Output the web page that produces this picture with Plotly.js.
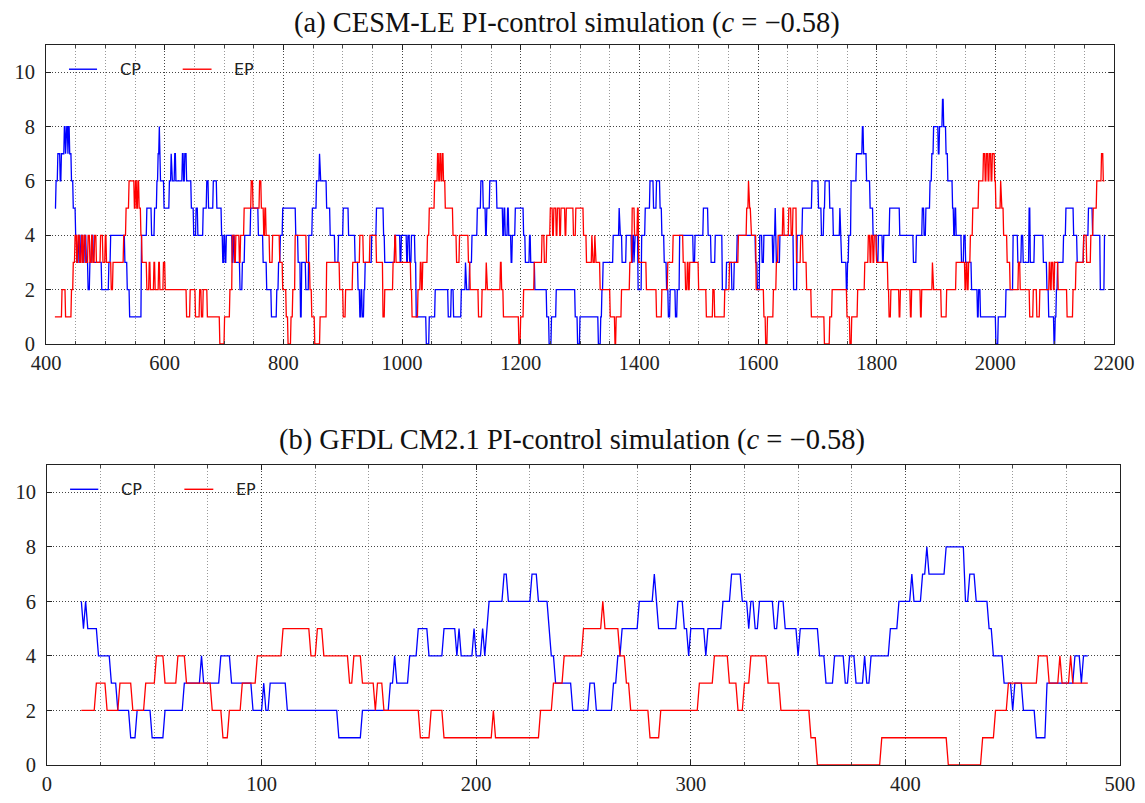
<!DOCTYPE html>
<html>
<head>
<meta charset="utf-8">
<script src="https://cdn.plot.ly/plotly-3.0.1.min.js"></script>
<style>html,body{margin:0;padding:0;background:#fff;}#chart{width:1145px;height:803px;}</style>
</head>
<body>
<div id="chart"></div>
<script>
// ---- Data: change points [year, value]; each value holds until the next change point ----
const cesmTitle = "(a) CESM-LE PI-control simulation (<i>c</i> = \u22120.58)";
const gfdlTitle = "(b) GFDL CM2.1 PI-control simulation (<i>c</i> = \u22120.58)";
const seriesNames = ["CP", "EP"];

const cesmEnd = 2185;
const cesmCP = [[415,5],[417,6],[420,7],[424,6],[426,7],[431,8],[433,7],[434,8],[437,7],[438,8],[440,7],[443,6],[446,5],[450,4],[452,3],[455,4],[457,3],[459,4],[462,3],[465,4],[468,3],[471,2],[474,3],[477,4],[480,3],[494,2],[506,3],[509,4],[533,3],[537,2],[541,1],[561,4],[570,5],[578,4],[583,5],[587,6],[589,7],[591,8],[592,6],[599,5],[608,6],[611,7],[612,6],[617,7],[619,6],[630,7],[632,6],[634,7],[637,6],[645,5],[649,4],[653,5],[656,4],[665,5],[671,6],[674,5],[682,6],[688,5],
[696,4],[698,3],[700,4],[702,3],[704,4],[714,3],[716,4],[718,3],[727,2],[731,3],[735,4],[745,5],[758,4],[766,3],[772,2],[780,1],[789,2],[792,3],[795,4],[799,5],[821,4],[825,3],[829,1],[831,3],[838,2],[843,4],[849,5],[856,6],[861,7],[862,6],[873,5],[879,4],[887,3],[893,4],[901,5],[910,4],[921,3],[926,2],[929,1],[931,2],[933,1],[936,2],[938,3],[949,4],[957,5],[969,4],[971,3],[988,4],[997,3],[999,4],
[1008,3],[1010,4],[1013,3],[1016,4],[1022,3],[1024,1],[1041,0],[1046,1],[1056,2],[1078,1],[1083,2],[1087,1],[1100,2],[1107,3],[1108,2],[1114,3],[1118,4],[1127,5],[1133,6],[1137,5],[1141,4],[1143,5],[1148,6],[1160,5],[1170,4],[1172,5],[1174,4],[1178,5],[1180,4],[1184,3],[1186,4],[1191,5],[1205,4],[1208,3],[1215,4],[1217,3],[1224,2],[1244,1],[1248,0],[1252,1],[1260,2],[1292,1],[1296,0],[1300,1],
[1331,0],[1335,1],[1337,2],[1339,3],[1356,4],[1366,5],[1367,4],[1371,3],[1378,4],[1387,3],[1389,4],[1391,3],[1392,4],[1398,2],[1404,4],[1410,5],[1418,6],[1424,5],[1429,6],[1435,5],[1438,4],[1442,3],[1446,2],[1449,1],[1452,2],[1461,1],[1464,2],[1468,4],[1491,3],[1494,4],[1508,5],[1516,4],[1521,3],[1528,4],[1540,2],[1547,3],[1556,2],[1560,3],[1565,4],[1596,3],[1599,2],[1603,4],
[1607,3],[1610,4],[1625,3],[1627,4],[1629,5],[1630,3],[1637,4],[1660,2],[1666,4],[1675,5],[1691,6],[1702,5],[1707,4],[1711,5],[1713,6],[1721,5],[1727,4],[1738,5],[1739,4],[1741,3],[1749,2],[1751,3],[1753,4],[1757,6],[1766,7],[1776,8],[1778,7],[1783,6],[1789,5],[1794,4],[1800,3],[1803,4],[1810,3],[1812,4],[1822,5],[1839,4],[1862,3],[1867,4],[1877,5],[1880,4],[1883,5],[1890,6],[1893,7],[1896,8],[1904,7],[1906,8],
[1911,9],[1913,8],[1917,7],[1920,6],[1928,5],[1930,4],[1932,5],[1934,4],[1943,3],[1947,4],[1950,3],[1960,2],[1970,1],[1972,2],[1975,1],[2001,0],[2005,1],[2018,2],[2030,4],[2038,3],[2044,4],[2047,3],[2057,5],[2059,3],[2066,4],[2081,3],[2087,2],[2090,1],[2099,0],[2101,1],[2103,2],[2105,3],[2115,4],[2119,5],[2132,4],[2138,3],[2149,4],[2157,5],[2164,4],[2177,2],[2184,4]];

const cesmEP = [[415,1],[427,2],[433,1],[443,2],[446,3],[449,4],[452,3],[454,4],[457,3],[460,4],[462,3],[464,4],[467,3],[471,4],[474,3],[477,4],[479,3],[482,4],[485,3],[492,4],[496,3],[500,4],[502,3],[510,2],[513,3],[531,4],[535,5],[540,6],[549,5],[551,6],[553,5],[555,6],[557,5],[560,4],[562,3],[570,2],[574,3],[576,2],[582,3],[584,2],[590,3],[592,2],[598,3],[601,2],[637,1],[643,2],[652,1],[659,2],[662,1],[665,2],[672,1],[693,0],
[701,1],[710,2],[714,4],[718,3],[720,4],[726,3],[728,4],[734,5],[746,6],[749,5],[760,6],[763,5],[767,4],[769,5],[771,4],[777,3],[782,4],[794,3],[799,2],[805,1],[808,0],[813,1],[816,2],[820,4],[839,3],[845,2],[848,1],[853,0],[862,1],[873,3],[895,2],[901,1],[905,2],[917,3],[929,4],[935,3],[946,4],[957,3],[968,1],[971,2],[985,3],[988,4],[990,3],
[1015,2],[1017,1],[1027,2],[1031,3],[1033,2],[1035,3],[1043,4],[1046,5],[1055,6],[1060,7],[1062,6],[1064,7],[1066,6],[1068,7],[1070,6],[1073,5],[1086,4],[1092,3],[1097,4],[1112,3],[1115,2],[1129,1],[1135,2],[1142,3],[1143,2],[1166,3],[1168,2],[1171,1],[1197,0],[1200,1],[1205,2],[1223,3],[1236,4],[1240,3],[1244,4],[1250,5],[1254,4],[1256,5],[1260,4],[1262,5],[1266,4],[1268,5],[1275,4],[1277,5],[1289,4],[1293,5],
[1306,4],[1311,3],[1320,4],[1321,3],[1325,4],[1326,3],[1334,2],[1351,1],[1359,0],[1361,1],[1370,2],[1384,3],[1388,5],[1392,4],[1397,5],[1399,3],[1412,2],[1429,1],[1438,2],[1448,3],[1457,4],[1474,3],[1478,2],[1481,3],[1483,2],[1485,3],[1500,2],[1513,1],[1524,2],[1527,1],[1544,2],[1552,3],[1567,4],[1581,5],[1584,6],[1585,5],[1588,4],[1597,2],
[1610,1],[1613,0],[1616,1],[1626,2],[1631,3],[1634,4],[1642,5],[1644,4],[1652,5],[1656,4],[1659,5],[1665,3],[1672,4],[1676,3],[1682,2],[1690,1],[1712,0],[1721,1],[1725,2],[1750,1],[1755,0],[1758,1],[1768,2],[1780,3],[1786,4],[1789,3],[1791,4],[1794,3],[1796,4],[1800,3],[1819,2],[1821,1],[1824,2],[1838,1],[1840,2],[1857,1],[1859,2],[1874,1],[1876,2],[1894,3],[1895,2],[1909,1],
[1918,2],[1934,3],[1949,2],[1951,3],[1953,2],[1955,3],[1958,4],[1962,5],[1972,6],[1980,7],[1983,6],[1985,7],[1988,6],[1990,7],[1993,6],[1995,7],[1999,6],[2001,5],[2009,6],[2010,5],[2014,4],[2020,3],[2025,2],[2039,3],[2042,2],[2058,1],[2064,2],[2070,1],[2075,2],[2091,3],[2093,2],[2095,3],[2098,2],[2100,3],[2106,2],[2121,1],[2131,2],[2136,3],[2149,4],[2154,3],[2161,4],[2165,5],[2171,6],[2179,7],[2182,6]];
const cesmEPEnd = 2184;

const gfdlEnd = 485;
const gfdlCP = [[16,6],[17,5],[18,6],[19,5],[24,4],[30,3],[33,2],[39,1],[42,2],[49,1],[55,2],[64,3],[72,4],[73,3],[81,4],[86,3],[96,2],[101,3],[102,2],[104,3],[112,2],[136,1],[147,2],[160,3],[162,4],[163,3],[169,4],[173,5],[178,4],[185,5],[191,4],[192,5],[193,4],[199,5],[200,4],[203,5],[204,4],[205,5],[206,6],[213,7],[215,6],[226,7],[229,6],[234,5],[235,4],[237,3],[245,2],[253,3],[256,2],[264,3],[266,4],[268,5],[276,6],[283,7],[284,6],[285,5],[294,6],[297,5],[299,4],[300,5],[307,4],[308,5],[315,6],[319,7],[324,6],[327,5],[328,6],[330,5],[332,6],[339,5],[341,6],[344,5],[350,4],[351,5],[360,4],[363,3],[367,4],[372,3],[374,4],[377,3],[381,4],[382,3],[384,4],[393,5],[397,6],[403,7],[404,6],[408,7],[410,8],[411,7],[419,8],[428,6],[430,7],[433,6],[439,5],[441,4],[446,3],[450,2],[451,3],[455,2],[461,1],[466,3],[479,4],[482,3],[483,4]];
const gfdlEP = [[16,2],[23,3],[28,2],[34,3],[40,2],[46,3],[51,4],[55,3],[61,4],[65,3],[77,2],[82,1],[85,2],[91,3],[98,4],[110,5],[123,4],[126,5],[129,4],[141,3],[143,4],[147,3],[153,2],[154,3],[157,2],[174,1],[179,2],[185,1],[208,2],[209,1],[230,2],[236,3],[241,4],[250,5],[259,6],[260,5],[267,4],[270,3],[272,2],[281,1],[286,2],[304,3],[311,4],[318,3],[322,2],[325,3],[328,4],[336,3],[342,2],[356,1],[359,0],[389,1],[420,0],[436,1],[442,2],[448,3],[462,4],[467,3],[472,4],[473,3],[477,4],[478,3]];

const cpColor = "#0000ff";
const epColor = "#ff0000";

// ---- expand change points into yearly values ----
function expand(cp, end) {
  const x = [], y = [];
  for (let i = 0; i < cp.length; i++) {
    const s = cp[i][0];
    const e = (i + 1 < cp.length) ? cp[i + 1][0] : end + 1;
    for (let t = s; t < e; t++) { x.push(t); y.push(cp[i][1]); }
  }
  return {x, y};
}

const a1 = expand(cesmCP, cesmEnd), a2 = expand(cesmEP, cesmEPEnd);
const b1 = expand(gfdlCP, gfdlEnd), b2 = expand(gfdlEP, gfdlEnd);

const lw = 1.3;
const traces = [
  {x: a1.x, y: a1.y, xaxis: 'x', yaxis: 'y', mode: 'lines', line: {color: cpColor, width: lw}, name: seriesNames[0], showlegend: false},
  {x: a2.x, y: a2.y, xaxis: 'x', yaxis: 'y', mode: 'lines', line: {color: epColor, width: lw}, name: seriesNames[1], showlegend: false},
  {x: b1.x, y: b1.y, xaxis: 'x2', yaxis: 'y2', mode: 'lines', line: {color: cpColor, width: lw}, name: seriesNames[0], showlegend: false},
  {x: b2.x, y: b2.y, xaxis: 'x2', yaxis: 'y2', mode: 'lines', line: {color: epColor, width: lw}, name: seriesNames[1], showlegend: false}
];

const tickFont = {family: "Liberation Serif, serif", size: 20.5, color: "#222"};
const gridMajor = {showgrid: true, gridcolor: "#444", griddash: "1px,2px", gridwidth: 1};
function xAxis(range, dtick, domain, anchor) {
  return Object.assign({
    range: range, dtick: dtick, tick0: 0, domain: domain, anchor: anchor,
    showline: true, linecolor: "#222", linewidth: 1, mirror: 'allticks',
    ticks: 'inside', ticklen: 5, tickcolor: "#222", tickfont: tickFont, zeroline: false,
    minor: {dtick: dtick / 4, tick0: 0, ticks: 'inside', ticklen: 3, tickcolor: "#444", showgrid: true, gridcolor: "#999", griddash: "1px,2px", gridwidth: 1}
  }, gridMajor);
}
function yAxis(domain, anchor) {
  return Object.assign({
    range: [0, 11], tickvals: [0, 2, 4, 6, 8, 10], domain: domain, anchor: anchor,
    showline: true, linecolor: "#222", linewidth: 1, mirror: 'allticks',
    ticks: 'inside', ticklen: 5, tickcolor: "#222", tickfont: tickFont, zeroline: false, ticklabelstandoff: 6
  }, gridMajor);
}

// manual legends (line samples + text), in axis-domain coordinates
const legY = 0.919;
const titleFont = {family: "Liberation Serif, serif", size: 28.5, color: "#111"};
const shapes = [];
const annotations = [
  {text: cesmTitle, xref: 'paper', yref: 'paper', x: 0.485, y: 1.031, xanchor: 'center', yanchor: 'middle', showarrow: false, font: titleFont},
  {text: gfdlTitle, xref: 'paper', yref: 'paper', x: 0.49, y: 0.4514, xanchor: 'center', yanchor: 'middle', showarrow: false, font: titleFont}
];
[['x', 'y'], ['x2', 'y2']].forEach(function (ax) {
  shapes.push({type: 'line', xref: ax[0] + ' domain', yref: ax[1] + ' domain', x0: 0.0215, x1: 0.0478, y0: legY, y1: legY, line: {color: cpColor, width: 1.4}});
  shapes.push({type: 'line', xref: ax[0] + ' domain', yref: ax[1] + ' domain', x0: 0.128, x1: 0.155, y0: legY, y1: legY, line: {color: epColor, width: 1.4}});
  annotations.push({text: seriesNames[0], xref: ax[0] + ' domain', yref: ax[1] + ' domain', x: 0.067, y: legY, xanchor: 'left', yanchor: 'middle', showarrow: false, font: {family: "DejaVu Sans, sans-serif", size: 16, color: "#222"}});
  annotations.push({text: seriesNames[1], xref: ax[0] + ' domain', yref: ax[1] + ' domain', x: 0.174, y: legY, xanchor: 'left', yanchor: 'middle', showarrow: false, font: {family: "DejaVu Sans, sans-serif", size: 16, color: "#222"}});
});

const layout = {
  width: 1145, height: 803,
  margin: {l: 46, r: 25, t: 45, b: 38},
  paper_bgcolor: "#fff", plot_bgcolor: "#fff",
  showlegend: false,
  xaxis: xAxis([400, 2200], 200, [0, 0.99441], 'y'),
  yaxis: yAxis([0.5847, 1], 'x'),
  xaxis2: xAxis([0, 500], 100, [0.00093, 1], 'y2'),
  yaxis2: yAxis([0, 0.4167], 'x2'),
  shapes: shapes,
  annotations: annotations
};

Plotly.newPlot('chart', traces, layout, {displayModeBar: false, staticPlot: true});
</script>
</body>
</html>
